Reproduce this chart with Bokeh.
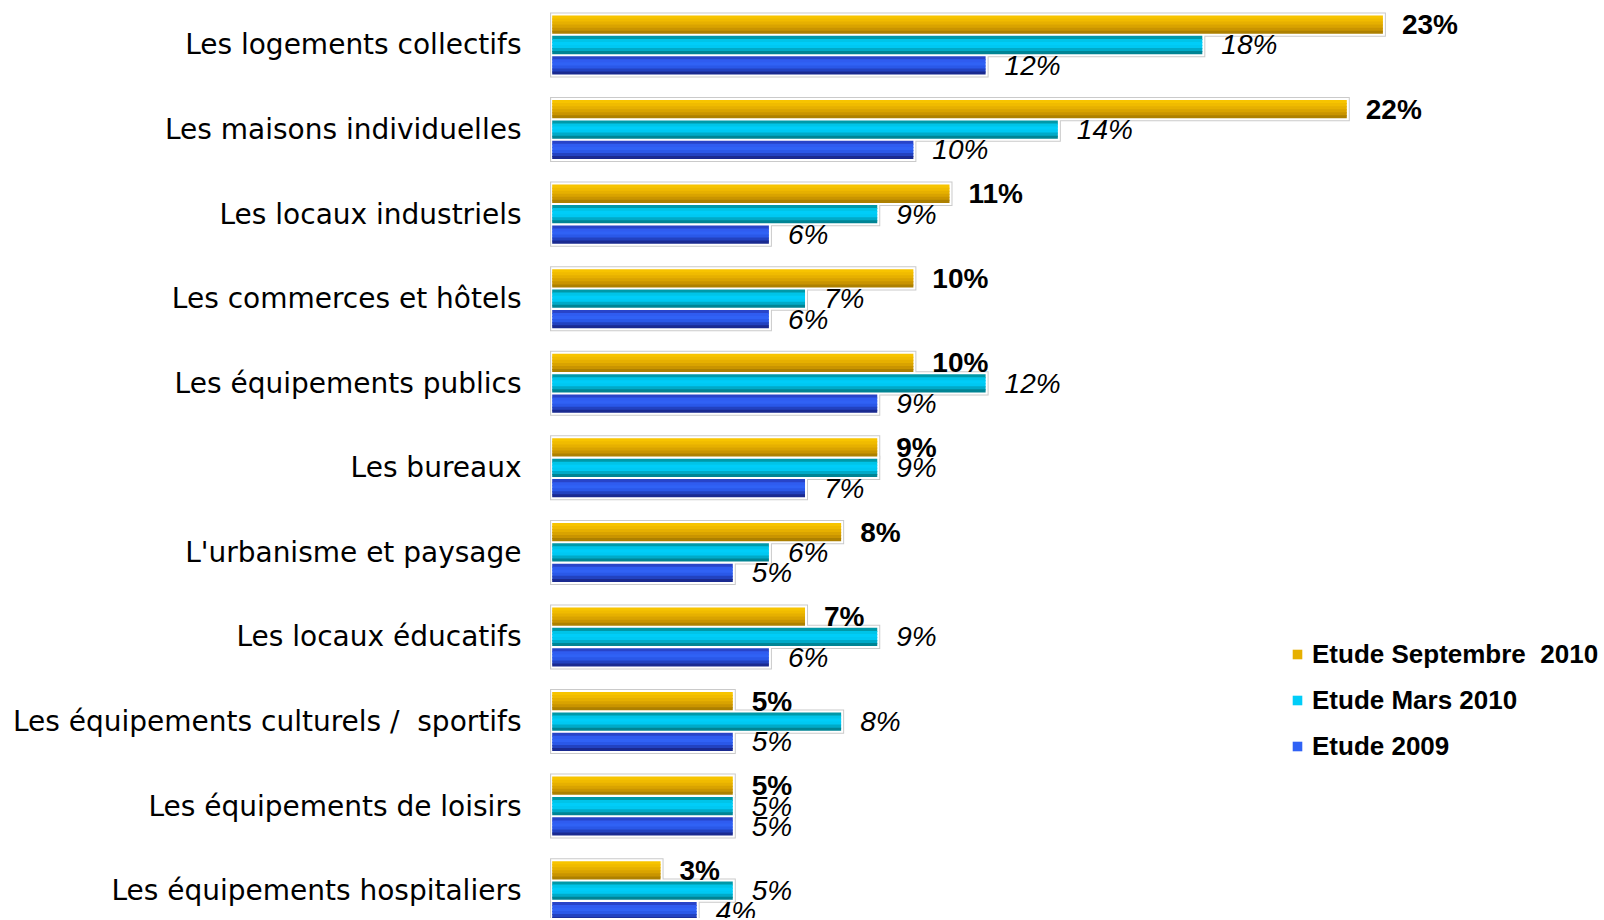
from bokeh.plotting import figure
from bokeh.models import Range1d, FixedTicker, ColumnDataSource, Legend, LegendItem
from bokeh.core.properties import value
from bokeh.embed import file_html
from bokeh.resources import INLINE

categories = [
    "Les logements collectifs",
    "Les maisons individuelles",
    "Les locaux industriels",
    "Les commerces et hôtels",
    "Les équipements publics",
    "Les bureaux",
    "L'urbanisme et paysage",
    "Les locaux éducatifs",
    "Les équipements culturels / \u00a0sportifs",
    "Les équipements de loisirs",
    "Les équipements hospitaliers",
]
series_names = ["Etude Septembre \u00a02010", "Etude Mars 2010", "Etude 2009"]
sept_2010 = [23, 22, 11, 10, 10, 9, 8, 7, 5, 5, 3]
mars_2010 = [18, 14, 9, 7, 12, 9, 6, 9, 8, 5, 5]
etude_2009 = [12, 10, 6, 6, 9, 7, 5, 6, 5, 5, 4]

# styles
gradients = [
    ["#f7c400", "#f0bb00", "#e6b000", "#d9a300", "#c99400", "#ad8000"],
    ["#0098a8", "#00c4e8", "#00cdf8", "#00c8f2", "#00aac8", "#008494"],
    ["#2844c8", "#2f5cf0", "#3062f5", "#2a58e8", "#2242c0", "#1a2a90"],
]
offsets = [-0.241, 0.0, 0.241]
bar_h = 0.216
label_styles = ["bold", "italic", "italic"]

n = len(categories)
ypos = list(range(n))

p = figure(width=1602, height=918, output_backend="svg", toolbar_location=None,
           x_range=Range1d(-0.13, 29.08), y_range=Range1d(10.329, -0.4316),
           x_axis_location=None, min_border=0, min_border_left=547, min_border_top=8)
p.outline_line_color = None
p.xgrid.visible = False
p.ygrid.visible = False
p.background_fill_color = "white"

yax = p.yaxis[0]
yax.ticker = FixedTicker(ticks=ypos)
yax.major_label_overrides = {i: c for i, c in enumerate(categories)}
yax.axis_line_color = None
yax.major_tick_line_color = None
yax.minor_tick_line_color = None
yax.major_tick_out = 0
yax.major_tick_in = 0
yax.major_label_standoff = 26
yax.major_label_text_font = "DejaVu Sans"
yax.major_label_text_font_size = "28px"
yax.major_label_text_color = "black"

all_vals = [sept_2010, mars_2010, etude_2009]
px_x = 1 / 36.12
px_y = 1 / 84.57

# outline frames (grey then white) behind bars
for vals, off in zip(all_vals, offsets):
    yc = [y + off for y in ypos]
    src = ColumnDataSource(dict(
        left=[-0.06] * n, right=[v + 3 * px_x for v in vals],
        top=[y - bar_h / 2 - 3 * px_y for y in yc], bottom=[y + bar_h / 2 + 3 * px_y for y in yc]))
    p.quad(left="left", right="right", top="top", bottom="bottom", source=src,
           fill_color="#cacaca", line_color=None)
for vals, off in zip(all_vals, offsets):
    yc = [y + off for y in ypos]
    src = ColumnDataSource(dict(
        left=[-0.03] * n, right=[v + 2 * px_x for v in vals],
        top=[y - bar_h / 2 - 2 * px_y for y in yc], bottom=[y + bar_h / 2 + 2 * px_y for y in yc]))
    p.quad(left="left", right="right", top="top", bottom="bottom", source=src,
           fill_color="white", line_color=None)

legend_items = []
for s, (vals, off, cols) in enumerate(zip(all_vals, offsets, gradients)):
    yc = [y + off for y in ypos]
    rs = []
    k_n = len(cols)
    for k, c in enumerate(cols):
        t = [y - bar_h / 2 + k * bar_h / k_n for y in yc]
        extra = px_y if k < k_n - 1 else 0
        b = [y - bar_h / 2 + (k + 1) * bar_h / k_n + extra for y in yc]
        src = ColumnDataSource(dict(left=[0] * n, right=vals, top=t, bottom=b))
        r = p.quad(left="left", right="right", top="top", bottom="bottom", source=src,
                   fill_color=c, line_color=None)
        rs.append(r)
    legend_items.append(LegendItem(label=series_names[s], renderers=[rs[2]]))

    lsrc = ColumnDataSource(dict(x=vals, y=yc, t=[f"{v}%" for v in vals]))
    p.text(x="x", y="y", text="t", source=lsrc, x_offset=19,
           text_align="left", text_baseline="middle",
           text_font=value("Liberation Sans"), text_font_size="28px",
           text_font_style=label_styles[s], text_color="black")

legend = Legend(items=legend_items, location=(744, 149), orientation="vertical",
                glyph_width=12, glyph_height=12, label_height=46, spacing=0,
                padding=0, margin=0, label_standoff=9,
                label_text_font="Liberation Sans", label_text_font_style="bold",
                label_text_font_size="26px", label_text_color="black",
                border_line_color=None, background_fill_alpha=0)
p.add_layout(legend)

open("out.html", "w").write(file_html(p, INLINE))
